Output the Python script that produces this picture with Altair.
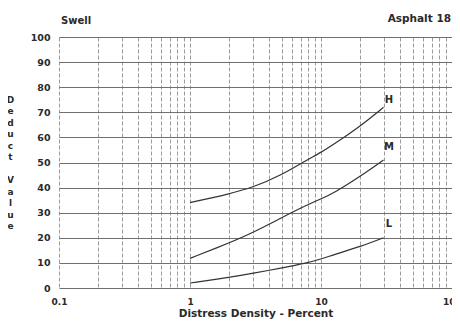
import altair as alt
import pandas as pd

density = [1, 2, 3, 5, 7.6, 10, 12.7, 20, 30]
high = [34, 37.5, 40, 45, 50.7, 54, 57.5, 64.5, 72]
medium = [11.8, 18, 22, 28, 32.8, 35.5, 38, 44.5, 51]
low = [2, 4.2, 5.8, 8, 9.8, 11.5, 13.4, 16.5, 20]

levels = ["H", "M", "L"]
label_x = [33, 33, 33]
label_y = [75, 56, 25.5]

x_ticks = [0.1, 0.2, 0.3, 0.4, 0.5, 0.6, 0.7, 0.8, 0.9,
           1, 2, 3, 4, 5, 6, 7, 8, 9,
           10, 20, 30, 40, 50, 60, 70, 80, 90, 100]
y_ticks = [0, 10, 20, 30, 40, 50, 60, 70, 80, 90, 100]

rows = []
for name, vals in zip(levels, [high, medium, low]):
    for d, v in zip(density, vals):
        rows.append({"density": d, "deduct": v, "level": name})
df = pd.DataFrame(rows)
lab = pd.DataFrame({"density": label_x, "deduct": label_y, "level": levels})

FONT = "DejaVu Sans"
INK = "#2a2a2a"

xscale = alt.Scale(type="log", domain=[0.1, 100], nice=False)
yscale = alt.Scale(domain=[0, 100], nice=False)

xaxis = alt.Axis(
    values=x_ticks,
    format="~g",
    labelExpr="(datum.value==0.1||datum.value==1||datum.value==10||datum.value==100) ? datum.label : ''",
    grid=True, gridColor="#9a9a9a", gridDash=[4, 2], gridWidth=1,
    ticks=False, domain=False,
    labelFont=FONT, labelFontSize=9, labelFontWeight="bold", labelColor=INK,
    labelPadding=9, labelFlush=False, labelOverlap=False,
    title="Distress Density - Percent",
    titleFont=FONT, titleFontSize=10.5, titleFontWeight="bold", titleColor=INK,
    titlePadding=2,
)
yaxis = alt.Axis(
    values=y_ticks,
    grid=True, gridColor="#707070", gridWidth=1.2,
    ticks=False, domain=False,
    labelFont=FONT, labelFontSize=9.5, labelFontWeight="bold", labelColor=INK,
    labelPadding=9, labelOverlap=False,
    title=["D", "e", "d", "u", "c", "t", "\u200b", "V", "a", "l", "u", "e"],
    titleAngle=0, titleAlign="center", titleBaseline="top",
    titleX=-49, titleY=58, titleLineHeight=11.5,
    titleFont=FONT, titleFontSize=9, titleFontWeight="bold", titleColor=INK,
)

lines = alt.Chart(df).mark_line(color="#333333", strokeWidth=1.2, interpolate="basis").encode(
    x=alt.X("density:Q", scale=xscale, axis=xaxis),
    y=alt.Y("deduct:Q", scale=yscale, axis=yaxis),
    detail="level:N",
)

labels = alt.Chart(lab).mark_text(font=FONT, fontSize=10, fontWeight="bold", color=INK).encode(
    x=alt.X("density:Q", scale=xscale, axis=xaxis),
    y=alt.Y("deduct:Q", scale=yscale, axis=yaxis),
    text="level:N",
)

corner = pd.DataFrame({"t": ["Swell"]})
left_note = alt.Chart(corner).mark_text(font=FONT, fontSize=10, fontWeight="bold", color=INK,
                                        align="left", baseline="middle").encode(
    x=alt.value(2), y=alt.value(-16), text="t:N")
corner2 = pd.DataFrame({"t": ["Asphalt 18"]})
right_note = alt.Chart(corner2).mark_text(font=FONT, fontSize=10.5, fontWeight="bold", color=INK,
                                          align="right", baseline="middle").encode(
    x=alt.value(392), y=alt.value(-18), text="t:N")

chart = alt.layer(lines, labels, left_note, right_note).properties(
    width=393, height=251,
    autosize=alt.AutoSizeParams(type="none"),
    padding={"left": 51, "top": 29, "right": 0, "bottom": 37},
).configure_view(stroke=None)

chart.save("out.html", embed_options={"renderer": "svg", "actions": False})
